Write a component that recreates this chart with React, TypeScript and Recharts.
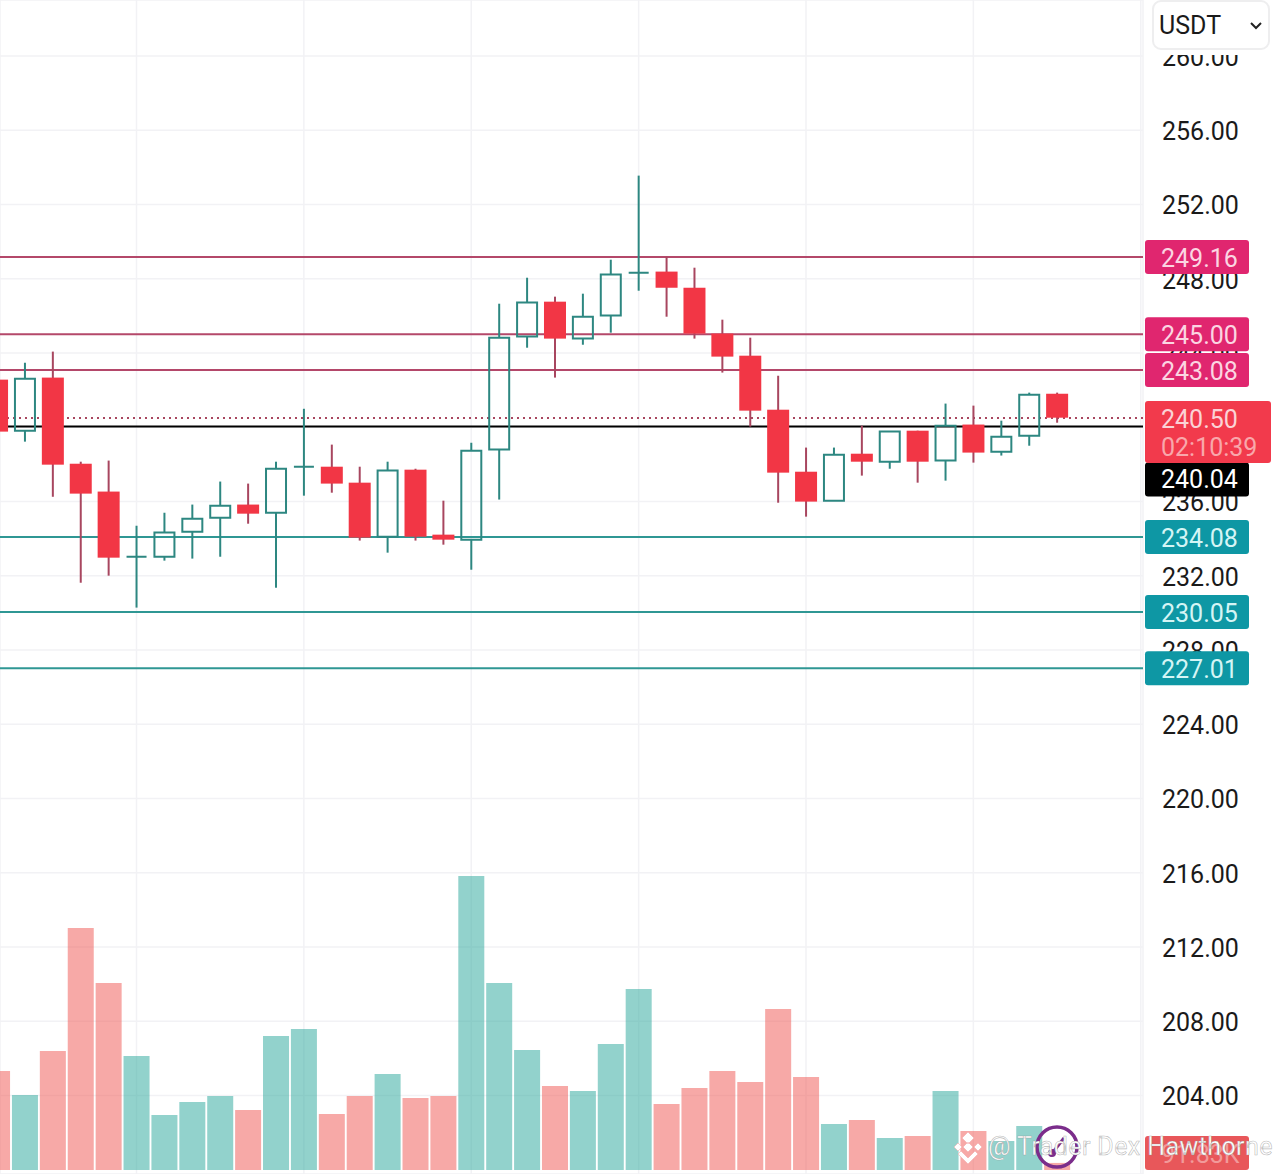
import React from "react";
import { ComposedChart, Bar, XAxis, YAxis, CartesianGrid, ReferenceLine } from "recharts";

const opens = [242.56,239.81,242.67,238.03,236.53,233.02,233.02,234.37,235.12,235.83,235.39,237.87,237.87,237.01,234.10,237.71,234.21,233.94,238.79,244.88,246.76,244.77,246.01,248.32,248.38,247.51,245.04,243.85,240.94,237.60,236.04,238.57,238.14,239.81,238.20,240.14,238.68,239.54,241.80];
const highs = [242.56,243.47,244.07,238.14,238.20,234.69,235.39,235.83,237.07,236.96,238.14,240.99,239.06,237.87,238.14,237.76,236.04,239.16,246.65,248.05,247.03,247.19,249.02,253.55,249.18,248.59,245.79,244.82,242.77,238.90,238.90,240.08,239.76,239.81,241.27,241.16,240.35,241.86,241.86];
const lows = [239.76,239.22,236.25,231.62,232.00,230.28,232.81,232.92,233.02,234.80,231.35,236.31,236.47,233.89,233.24,233.89,233.67,232.32,236.10,244.28,242.67,244.44,245.09,247.35,245.95,244.77,242.94,240.03,235.93,235.18,236.04,237.39,237.76,237.01,237.12,238.09,238.47,239.00,240.24];
const closes = [239.76,242.61,237.98,236.42,232.97,233.02,234.32,235.07,235.77,235.34,237.76,237.87,236.96,234.05,237.66,234.10,233.94,238.73,244.82,246.71,244.77,245.95,248.22,248.32,247.51,245.04,243.80,240.89,237.55,235.99,238.52,238.14,239.76,238.14,240.08,238.63,239.49,241.75,240.51];
const volumes = [1287,975,1547,3146,2431,1482,715,884,962,780,1742,1833,728,962,1248,936,962,3822,2431,1560,1092,1027,1638,2353,858,1066,1287,1144,2093,1209,598,650,416,442,1027,507,377,572,91.83];

const priceTicks = [204,208,212,216,220,224,228,232,236,240,244,248,252,256,260];
const gridCandles = [5,11,17,23,29,35,41];
const resistance = [249.16,245.0,243.08];
const support = [234.08,230.05,227.01];
const lastPrice = 240.5;
const countdown = "02:10:39";
const markPrice = 240.04;
const lastVolume = 91.83;
const lastVolumeLabel = "91.83K";
const currency = "USDT";
const watermark = "@ Trader Dex Hawthorne";

const rows = opens.map((open, i) => ({
  i,
  open,
  high: highs[i],
  low: lows[i],
  close: closes[i],
  volume: volumes[i],
}));

const FONT = "Roboto, sans-serif";
const RED = "#f23645";
const RED_WICK = "#a8465f";
const GREEN = "#2d8781";
const X_DOMAIN = [0.1075, 41.08];
const PRICE_DOMAIN = [199.77, 263.01];
const VOL_DOMAIN = [-52, 15210];

const Candle = (p: any) => {
  const { x, y, width, height, payload } = p;
  const { open, high, low, close } = payload;
  const k = height / (high - low);
  const topVal = Math.max(open, close);
  const botVal = Math.min(open, close);
  const bt = y + (high - topVal) * k;
  const bb = y + (high - botVal) * k;
  const cx = x + width / 2;
  const up = close >= open;
  if (up) {
    return (
      <g>
        <line x1={cx} x2={cx} y1={y} y2={bt} stroke={GREEN} strokeWidth={2} />
        <line x1={cx} x2={cx} y1={bb} y2={y + height} stroke={GREEN} strokeWidth={2} />
        <path d={`M${x + 1} ${bt}H${x + width - 1}V${bb}H${x + 1}Z`} fill="none" stroke={GREEN} strokeWidth={2} />
      </g>
    );
  }
  return (
    <g>
      <line x1={cx} x2={cx} y1={y} y2={y + height} stroke={RED_WICK} strokeWidth={2} />
      <rect x={x} y={bt} width={width} height={bb - bt} fill={RED} />
    </g>
  );
};

const VolumeBar = (p: any) => {
  const { x, y, width, height, payload } = p;
  const up = payload.close >= payload.open;
  return <rect x={x} y={y} width={width} height={height} fill={up ? "#26a69a" : "#ef5350"} fillOpacity={0.5} />;
};

const Tag = (opts: { text: string; text2?: string; fill: string; color: string; color2?: string; w?: number; h?: number; dy?: number; textDy?: number }) => (props: any) => {
  const vb = props.viewBox;
  const { fill, color, color2, text, text2, w = 104, h = 34, dy = 0, textDy = 18 } = opts;
  const left = vb.x + vb.width + 2;
  const cy = vb.y + dy;
  const top = cy - 17;
  return (
    <g>
      <rect x={left} y={top} width={w} height={h} rx={3} fill={fill} />
      <text x={left + 16} y={top + textDy} dy="0.36em" fontFamily={FONT} fontSize={25} fill={color}>{text}</text>
      {text2 ? (
        <text x={left + 16} y={top + textDy + 28} dy="0.36em" fontFamily={FONT} fontSize={25} fill={color2}>{text2}</text>
      ) : null}
    </g>
  );
};

export default function App() {
  return (
    <div style={{ position: "absolute", left: 0, top: 0, width: 1279, height: 1174, overflow: "hidden", background: "#fff" }}>
      <ComposedChart width={1279} height={1174} data={rows} margin={{ top: 0, right: 0, bottom: 0, left: 0 }}>
        <CartesianGrid stroke="#f2f2f5" strokeWidth={1.5} />
        <XAxis dataKey="i" type="number" domain={X_DOMAIN} ticks={gridCandles} allowDataOverflow hide />
        <XAxis xAxisId="vx" dataKey="i" type="number" domain={X_DOMAIN} ticks={gridCandles} allowDataOverflow hide />
        <YAxis
          orientation="right"
          width={136}
          domain={PRICE_DOMAIN}
          ticks={priceTicks}
          interval={0}
          allowDataOverflow
          axisLine={false}
          tickLine={false}
          tickSize={0}
          tickMargin={19}
          tickFormatter={(v: number) => v.toFixed(2)}
          tick={{ fontFamily: FONT, fontSize: 25, fill: "#1a1a1a", dy: 1 }}
        />
        <YAxis yAxisId="vol" hide domain={VOL_DOMAIN} allowDataOverflow />
        <Bar xAxisId="vx" yAxisId="vol" dataKey="volume" barSize={26} shape={VolumeBar} isAnimationActive={false} />
        {resistance.map((v) => (
          <ReferenceLine key={v} y={v} stroke="#b4486a" strokeWidth={2} />
        ))}
        {support.map((v) => (
          <ReferenceLine key={v} y={v} stroke="#2f9794" strokeWidth={2} />
        ))}
        <ReferenceLine y={lastPrice} stroke="#a8465f" strokeWidth={2} strokeDasharray="2 4" />
        <ReferenceLine y={markPrice} stroke="#000" strokeWidth={2} />
      </ComposedChart>

      <div style={{ position: "absolute", left: 0, top: 0 }}>
        <ComposedChart width={1279} height={1174} data={rows} margin={{ top: 0, right: 136, bottom: 0, left: 0 }}>
          <XAxis dataKey="i" type="number" domain={X_DOMAIN} ticks={gridCandles} allowDataOverflow hide />
          <YAxis hide domain={PRICE_DOMAIN} allowDataOverflow />
          <YAxis yAxisId="vol" hide domain={VOL_DOMAIN} allowDataOverflow />
          <Bar dataKey={(d: any) => [d.low, d.high]} barSize={22} shape={Candle} isAnimationActive={false} />
          <ReferenceLine yAxisId="vol" y={lastVolume} stroke="none" label={Tag({ text: lastVolumeLabel, fill: "#e8575a", color: "#f29a9a", dy: -10 })} />
          <ReferenceLine y={markPrice} stroke="none" label={Tag({ text: markPrice.toFixed(2), fill: "#000", color: "#fff", dy: 53, textDy: 17 })} />
          <ReferenceLine y={lastPrice} stroke="none" label={Tag({ text: lastPrice.toFixed(2), text2: countdown, fill: "#f23a4c", color: "#fbd3d6", color2: "#f9a7ab", w: 126, h: 62, textDy: 18 })} />
          {support.map((v) => (
            <ReferenceLine key={v} y={v} stroke="none" label={Tag({ text: v.toFixed(2), fill: "#0e97a4", color: "#d5f5f5" })} />
          ))}
          {resistance.map((v) => (
            <ReferenceLine key={v} y={v} stroke="none" label={Tag({ text: v.toFixed(2), fill: "#e0266f", color: "#fbd5e2" })} />
          ))}
        </ComposedChart>
      </div>

      <div style={{ position: "absolute", left: 1152, top: 0, width: 118, height: 55, background: "#fff" }} />
      <div
        style={{
          position: "absolute",
          left: 1152,
          top: 0,
          width: 118,
          height: 50,
          background: "#fff",
          border: "2px solid #eeeeef",
          borderRadius: 9,
          fontFamily: FONT,
          fontSize: 25,
          color: "#1a1a1a",
          lineHeight: "48px",
          paddingLeft: 5,
          boxSizing: "border-box",
        }}
      >
        {currency}
        <svg style={{ position: "absolute", left: 95, top: 19 }} width={14} height={10}>
          <path d="M2 2L7 7L12 2" fill="none" stroke="#222" strokeWidth={2} />
        </svg>
      </div>

      <svg style={{ position: "absolute", left: 0, top: 0, pointerEvents: "none" }} width={1279} height={1174}>
        <g fill="#fff" stroke="#f0a0a0" strokeWidth={0.5}>
          <path d="M968 1132l6 6-6 6-6-6zM954 1147l4-4 4 4-4 4zM982 1147l-4-4-4 4 4 4zM968 1142l5 5-5 5-5-5zM968 1164l-10-10 3-3 7 7 7-7 3 3z" />
        </g>
        <circle cx={1057} cy={1147} r={20} fill="none" stroke="#7b2d8b" strokeWidth={3.5} />
        <path d="M1050 1156L1064 1138" stroke="#7b2d8b" strokeWidth={3} fill="none" />
        <circle cx={1052} cy={1153} r={4} fill="#7b2d8b" />
        <text x={988} y={1155} fontFamily={FONT} fontSize={25} letterSpacing={0.4} fill="#fff" stroke="#8a8a8a" strokeOpacity={0.6} strokeWidth={0.6}>
          {watermark}
        </text>
      </svg>
    </div>
  );
}
